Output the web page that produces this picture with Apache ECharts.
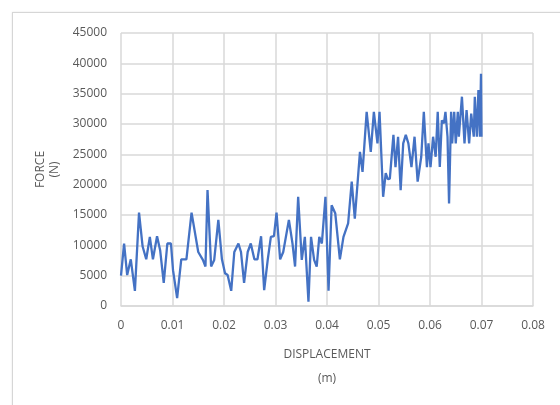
<!DOCTYPE html>
<html>
<head>
<meta charset="utf-8">
<script src="https://cdn.jsdelivr.net/npm/echarts@6/dist/echarts.min.js"></script>
<style>
  html, body { margin: 0; padding: 0; background: #fff; }
  #frame {
    position: absolute; left: 12px; top: 12px; width: 600px; height: 500px;
    border: 1px solid #d6d6d6; box-shadow: 0 0 2px #e6e6e6;
  }
  #chart { position: absolute; left: 0; top: 0; width: 560px; height: 405px; }
</style>
</head>
<body>
<div id="frame"></div>
<div id="chart"></div>
<script>
// displacement (m)
const displacement = [
  0.0000, 0.0006, 0.0012, 0.0019, 0.0027, 0.0035, 0.0042, 0.0049, 0.0056, 0.0062,
  0.0070, 0.0076, 0.0083, 0.0090, 0.0097, 0.0101, 0.0109, 0.0117, 0.0127, 0.0137,
  0.0150, 0.0159, 0.0164, 0.0168, 0.0175, 0.0181, 0.0189, 0.0196, 0.0202, 0.0207,
  0.0214, 0.0220, 0.0228, 0.0233, 0.0239, 0.0246, 0.0252, 0.0259, 0.0265, 0.0272,
  0.0278, 0.0285, 0.0291, 0.0297, 0.0302, 0.0309, 0.0315, 0.0326, 0.0333, 0.0338,
  0.0344, 0.0351, 0.0357, 0.0364, 0.0369, 0.0375, 0.0380, 0.0385, 0.0390, 0.0397,
  0.0403, 0.0409, 0.0416, 0.0425, 0.0432, 0.0441, 0.0448, 0.0454, 0.0464, 0.0469,
  0.0477, 0.0480, 0.0485, 0.0491, 0.0498, 0.0502, 0.0505, 0.0509, 0.0514, 0.0518,
  0.0522, 0.0529, 0.0533, 0.0538, 0.0543, 0.0548, 0.0553, 0.0558, 0.0564, 0.0570,
  0.0576, 0.0583, 0.0588, 0.0594, 0.0597, 0.0601, 0.0606, 0.0611, 0.0615, 0.0619,
  0.0623, 0.0627, 0.0630, 0.0634, 0.0637, 0.0641, 0.0643, 0.0647, 0.0650, 0.0654,
  0.0656, 0.0662, 0.0667, 0.0671, 0.0676, 0.0680, 0.0685, 0.0687, 0.0691, 0.0694,
  0.0697, 0.0699, 0.0700
];
// force (N)
const force = [
  5000, 10300, 5100, 7700, 2500, 15400, 9800, 7700, 11400, 7700,
  11500, 9200, 3800, 10300, 10300, 5900, 1300, 7700, 7700, 15400,
  8900, 7600, 6500, 19100, 6500, 7600, 14200, 7700, 5400, 5100,
  2500, 8900, 10300, 8900, 3800, 8900, 10300, 7700, 7700, 11500,
  2600, 7700, 11400, 11500, 15400, 7700, 8900, 14200, 10300, 6500,
  18000, 7600, 11400, 700, 11400, 7600, 6500, 11400, 10300, 18000,
  2500, 16600, 15300, 7700, 11400, 13600, 20500, 14400, 25400, 22100,
  32000, 32000, 25400, 32000, 26800, 32000, 32000, 18000, 21900, 20900,
  21000, 28200, 22900, 27900, 19100, 26800, 28200, 26800, 22900, 27900,
  20500, 24600, 32000, 22900, 26800, 22900, 27900, 24600, 32000, 22900,
  30600, 30100, 32000, 27900, 16900, 32000, 26800, 32000, 26800, 32000,
  27900, 34500, 26800, 32300, 26800, 31700, 27900, 34500, 27900, 35600,
  27900, 38300, 27900
];

const textColor = '#595959';
const gridColor = '#d9d9d9';

const myChart = echarts.init(document.getElementById('chart'));
myChart.setOption({
  animation: false,
  textStyle: { fontFamily: 'Open Sans', color: textColor },
  grid: { left: 121, right: 27, top: 33, bottom: 99 },
  xAxis: {
    type: 'value',
    min: 0,
    max: 0.08,
    interval: 0.01,
    name: 'DISPLACEMENT\n(m)',
    nameLocation: 'middle',
    nameGap: 37,
    nameTextStyle: { fontSize: 12, color: textColor, lineHeight: 24 },
    axisLine: { show: true, lineStyle: { color: gridColor, width: 1.5 } },
    axisTick: { show: false },
    axisLabel: { fontSize: 12, color: textColor, margin: 14 },
    splitLine: { show: true, lineStyle: { color: gridColor, width: 1.5 } }
  },
  yAxis: {
    type: 'value',
    min: 0,
    max: 45000,
    interval: 5000,
    name: 'FORCE\n(N)',
    nameLocation: 'middle',
    nameRotate: 90,
    nameGap: 53,
    nameTextStyle: { fontSize: 12, color: textColor, lineHeight: 14 },
    axisLine: { show: false },
    axisTick: { show: false },
    axisLabel: {
      fontSize: 12,
      color: textColor,
      margin: 14,
      formatter(value) {
        return String(value);
      }
    },
    splitLine: { show: true, lineStyle: { color: gridColor, width: 1.5 } }
  },
  series: [{
    type: 'line',
    showSymbol: false,
    data: displacement.map((d, i) => [d, force[i]]),
    lineStyle: { color: '#4472c4', width: 2.3 },
    itemStyle: { color: '#4472c4' }
  }]
});
</script>
</body>
</html>
